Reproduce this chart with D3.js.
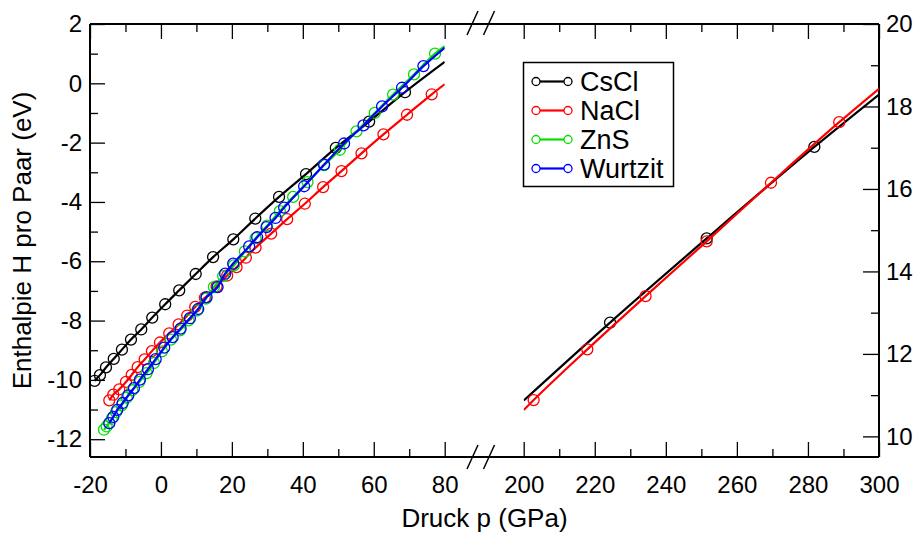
<!DOCTYPE html>
<html>
<head>
<meta charset="utf-8">
<script src="https://cdn.jsdelivr.net/npm/d3@7"></script>
<style>
  html, body { margin: 0; padding: 0; background: #fff; }
  svg { display: block; font-family: "Liberation Sans", Arial, sans-serif; }
</style>
</head>
<body>
<svg id="chart" width="920" height="533"></svg>
<script>
// ---------- data ----------
const seriesNames = ["CsCl", "NaCl", "ZnS", "Wurtzit"];
const seriesColors = ["#000000", "#ff0000", "#00e000", "#0000ff"];

// left panel (low pressure): [pressure GPa, enthalpy eV]
const csclLow = [[-18.7,-10.03],[-17.2,-9.84],[-15.5,-9.58],[-13.3,-9.29],[-11.0,-8.98],[-8.45,-8.64],[-5.55,-8.30],[-2.45,-7.90],[1.2,-7.45],[5.15,-6.98],[9.8,-6.43],[14.7,-5.86],[20.4,-5.26],[26.6,-4.56],[33.3,-3.83],[40.9,-3.06],[49.3,-2.18],[58.7,-1.29],[68.8,-0.30]];
const naclLow = [[-14.56,-10.69],[-13.44,-10.50],[-11.75,-10.32],[-9.86,-10.07],[-8.25,-9.83],[-6.56,-9.57],[-4.59,-9.31],[-2.54,-9.03],[-0.28,-8.74],[2.34,-8.43],[4.99,-8.13],[7.41,-7.83],[9.66,-7.54],[12.39,-7.23],[15.69,-6.85],[18.68,-6.48],[21.32,-6.20],[23.94,-5.88],[26.68,-5.54],[31.07,-5.07],[35.58,-4.58],[40.56,-4.06],[45.72,-3.50],[50.90,-2.96],[56.54,-2.36],[62.73,-1.72],[69.38,-1.06],[76.34,-0.37]];
const znsLow = [[-16.06,-11.68],[-15.30,-11.57],[-13.89,-11.31],[-12.68,-11.09],[-11.07,-10.86],[-9.66,-10.60],[-8.08,-10.35],[-6.11,-10.07],[-4.03,-9.77],[-1.97,-9.43],[0.28,-9.04],[2.82,-8.64],[5.35,-8.33],[7.80,-7.99],[10.23,-7.66],[12.68,-7.26],[14.93,-6.87],[17.55,-6.50],[20.56,-6.14],[23.66,-5.67],[26.68,-5.22],[29.94,-4.80],[33.52,-4.31],[37.27,-3.83],[41.32,-3.33],[46.0,-2.76],[50.42,-2.24],[55.13,-1.62],[60.28,-1.00],[65.44,-0.38],[71.35,0.30],[77.27,1.00]];
const wurtzLow = [[-14.56,-11.46],[-13.44,-11.25],[-12.31,-11.01],[-10.79,-10.78],[-9.21,-10.52],[-7.61,-10.28],[-5.92,-9.99],[-3.66,-9.64],[-1.49,-9.30],[0.93,-8.91],[3.30,-8.56],[5.55,-8.27],[8.17,-7.92],[10.51,-7.61],[12.87,-7.21],[15.97,-6.87],[18.11,-6.42],[20.37,-6.08],[24.87,-5.50],[27.13,-5.19],[29.77,-4.85],[32.31,-4.54],[34.73,-4.19],[40.37,-3.47],[46.0,-2.74],[51.63,-2.03],[57.10,-1.42],[62.34,-0.78],[67.97,-0.15],[74.0,0.58]];
// where each curve ends at the right edge of the left panel (p = 80 GPa)
const lowCurveEnds = [[80,0.72],[80,-0.03],[80,1.25],[80,1.20]];

// right panel (high pressure)
const csclHigh = [[224.3,12.76],[251.5,14.80],[281.8,17.02]];
const naclHigh = [[202.8,10.88],[217.9,12.11],[234.3,13.40],[251.5,14.73],[269.6,16.15],[288.8,17.62]];
const highCurveStarts = [[200,10.87],[200,10.64]];
const highCurveEnds = [[300,18.29],[300,18.43]];

const xTicksLow = [-20, 0, 20, 40, 60, 80];
const xTicksHigh = [200, 220, 240, 260, 280, 300];
const yTicksLeft = [-12, -10, -8, -6, -4, -2, 0, 2];
const yTicksRight = [10, 12, 14, 16, 18, 20];

const xLabel = "Druck p (GPa)";
const yLabel = "Enthalpie H pro Paar (eV)";

// ---------- layout ----------
const svg = d3.select("#chart");
const yTop = 24, yBot = 457;
const leftX0 = 90, leftX1 = 444.7, rightX0 = 523.7, rightX1 = 879;

const xLow = d3.scaleLinear().domain([-20, 80]).range([leftX0, leftX1]);
const xHigh = d3.scaleLinear().domain([200, 300]).range([rightX0, rightX1]);
const yLeft = d3.scaleLinear().domain([-12.6, 2]).range([yBot, yTop]);
const yRight = d3.scaleLinear().domain([9.5, 20]).range([yBot, yTop]);

const tickFont = 24;
const fmt = d => String(d);   // plain hyphen-minus, as in the reference
const defs = svg.append("defs");
defs.append("clipPath").attr("id", "clipL").append("rect")
  .attr("x", leftX0).attr("y", yTop).attr("width", leftX1 - leftX0).attr("height", yBot - yTop);
defs.append("clipPath").attr("id", "clipR").append("rect")
  .attr("x", rightX0).attr("y", yTop).attr("width", rightX1 - rightX0).attr("height", yBot - yTop);

function styleAxis(g) {
  g.select(".domain").remove();
  g.selectAll(".tick line").attr("stroke", "#000").attr("stroke-width", 1.3);
  g.selectAll(".tick text").attr("fill", "#000").attr("font-size", tickFont)
    .attr("font-family", "Liberation Sans, Arial, sans-serif");
}

// x axes bottom (major + minor) and top
[[xLow, xTicksLow, [-10, 10, 30, 50, 70]], [xHigh, xTicksHigh, [210, 230, 250, 270, 290]]].forEach(([sc, maj, mnr]) => {
  svg.append("g").attr("transform", `translate(0,${yBot})`)
    .call(d3.axisBottom(sc).tickValues(maj).tickSizeInner(-15).tickSizeOuter(0).tickPadding(19).tickFormat(fmt))
    .call(styleAxis);
  svg.append("g").attr("transform", `translate(0,${yBot})`)
    .call(d3.axisBottom(sc).tickValues(mnr).tickSizeInner(-8).tickSizeOuter(0).tickFormat(""))
    .call(styleAxis);
  svg.append("g").attr("transform", `translate(0,${yTop})`)
    .call(d3.axisTop(sc).tickValues(maj).tickSizeInner(-15).tickSizeOuter(0).tickFormat(""))
    .call(styleAxis);
  svg.append("g").attr("transform", `translate(0,${yTop})`)
    .call(d3.axisTop(sc).tickValues(mnr).tickSizeInner(-8).tickSizeOuter(0).tickFormat(""))
    .call(styleAxis);
});

// y axes
svg.append("g").attr("transform", `translate(${leftX0},0)`)
  .call(d3.axisLeft(yLeft).tickValues(yTicksLeft).tickSizeInner(-15).tickSizeOuter(0).tickPadding(8).tickFormat(fmt))
  .call(styleAxis)
  .selectAll(".tick text").attr("text-anchor", "end").attr("x", -8);
svg.append("g").attr("transform", `translate(${leftX0},0)`)
  .call(d3.axisLeft(yLeft).tickValues([-11, -9, -7, -5, -3, -1, 1]).tickSizeInner(-8).tickSizeOuter(0).tickFormat(""))
  .call(styleAxis);
svg.append("g").attr("transform", `translate(${rightX1},0)`)
  .call(d3.axisRight(yRight).tickValues(yTicksRight).tickSizeInner(-16).tickSizeOuter(0).tickFormat(fmt))
  .call(styleAxis)
  .selectAll(".tick text").attr("text-anchor", "start").attr("x", 7);
svg.append("g").attr("transform", `translate(${rightX1},0)`)
  .call(d3.axisRight(yRight).tickValues([11, 13, 15, 17, 19]).tickSizeInner(-8).tickSizeOuter(0).tickFormat(""))
  .call(styleAxis);

// frame
const frame = svg.append("g").attr("stroke", "#000").attr("stroke-width", 2).attr("fill", "none");
frame.append("line").attr("x1", leftX0).attr("x2", rightX1).attr("y1", yTop).attr("y2", yTop);
frame.append("line").attr("x1", leftX0).attr("x2", rightX1).attr("y1", yBot).attr("y2", yBot);
frame.append("line").attr("x1", leftX0).attr("x2", leftX0).attr("y1", yTop).attr("y2", yBot);
frame.append("line").attr("x1", rightX1).attr("x2", rightX1).attr("y1", yTop).attr("y2", yBot);

// break marks "//"
[yTop - 1, yBot].forEach(yy => {
  [472.5, 489].forEach(xc => {
    svg.append("line").attr("x1", xc - 5.5).attr("y1", yy + 12).attr("x2", xc + 5.5).attr("y2", yy - 12)
      .attr("stroke", "#000").attr("stroke-width", 1.5);
  });
});

// ---------- data marks ----------
const lineGen = (xs, ys) => d3.line().x(d => xs(d[0])).y(d => ys(d[1])).curve(d3.curveMonotoneX);
const lowSeries = [csclLow, naclLow, znsLow, wurtzLow];
const gL = svg.append("g").attr("clip-path", "url(#clipL)");
lowSeries.forEach((pts, i) => {
  const curve = pts.concat([lowCurveEnds[i]]);
  gL.append("path").datum(curve).attr("d", lineGen(xLow, yLeft))
    .attr("fill", "none").attr("stroke", seriesColors[i]).attr("stroke-width", 2.2);
  gL.selectAll(null).data(pts).enter().append("circle")
    .attr("cx", d => xLow(d[0])).attr("cy", d => yLeft(d[1])).attr("r", 5.5)
    .attr("fill", "none").attr("stroke", seriesColors[i]).attr("stroke-width", 1.3);
});

const highSeries = [csclHigh, naclHigh];
const gR = svg.append("g").attr("clip-path", "url(#clipR)");
highSeries.forEach((pts, i) => {
  const curve = [highCurveStarts[i]].concat(pts, [highCurveEnds[i]]);
  gR.append("path").datum(curve).attr("d", lineGen(xHigh, yRight))
    .attr("fill", "none").attr("stroke", seriesColors[i]).attr("stroke-width", 2.2);
  gR.selectAll(null).data(pts).enter().append("circle")
    .attr("cx", d => xHigh(d[0])).attr("cy", d => yRight(d[1])).attr("r", 5.5)
    .attr("fill", "none").attr("stroke", seriesColors[i]).attr("stroke-width", 1.3);
});

// ---------- axis titles ----------
svg.append("text").attr("x", (leftX0 + rightX1) / 2).attr("y", 527)
  .attr("text-anchor", "middle").attr("font-size", 26).text(xLabel);
svg.append("text").attr("transform", `translate(31,${(yTop + yBot) / 2}) rotate(-90)`)
  .attr("text-anchor", "middle").attr("font-size", 26).text(yLabel);

// ---------- legend ----------
const lg = svg.append("g");
lg.append("rect").attr("x", 523.5).attr("y", 62.5).attr("width", 150).attr("height", 124)
  .attr("fill", "#fff").attr("stroke", "#000").attr("stroke-width", 1.5);
seriesNames.forEach((name, i) => {
  const yy = 81.5 + i * 29;
  lg.append("line").attr("x1", 536).attr("x2", 568).attr("y1", yy).attr("y2", yy)
    .attr("stroke", seriesColors[i]).attr("stroke-width", 2.2);
  [536, 568].forEach(cx => lg.append("circle").attr("cx", cx).attr("cy", yy).attr("r", 4)
    .attr("fill", "#fff").attr("stroke", seriesColors[i]).attr("stroke-width", 1.3));
  lg.append("text").attr("x", 580).attr("y", yy).attr("dy", "0.36em")
    .attr("font-size", 27).text(name);
});
</script>
</body>
</html>
